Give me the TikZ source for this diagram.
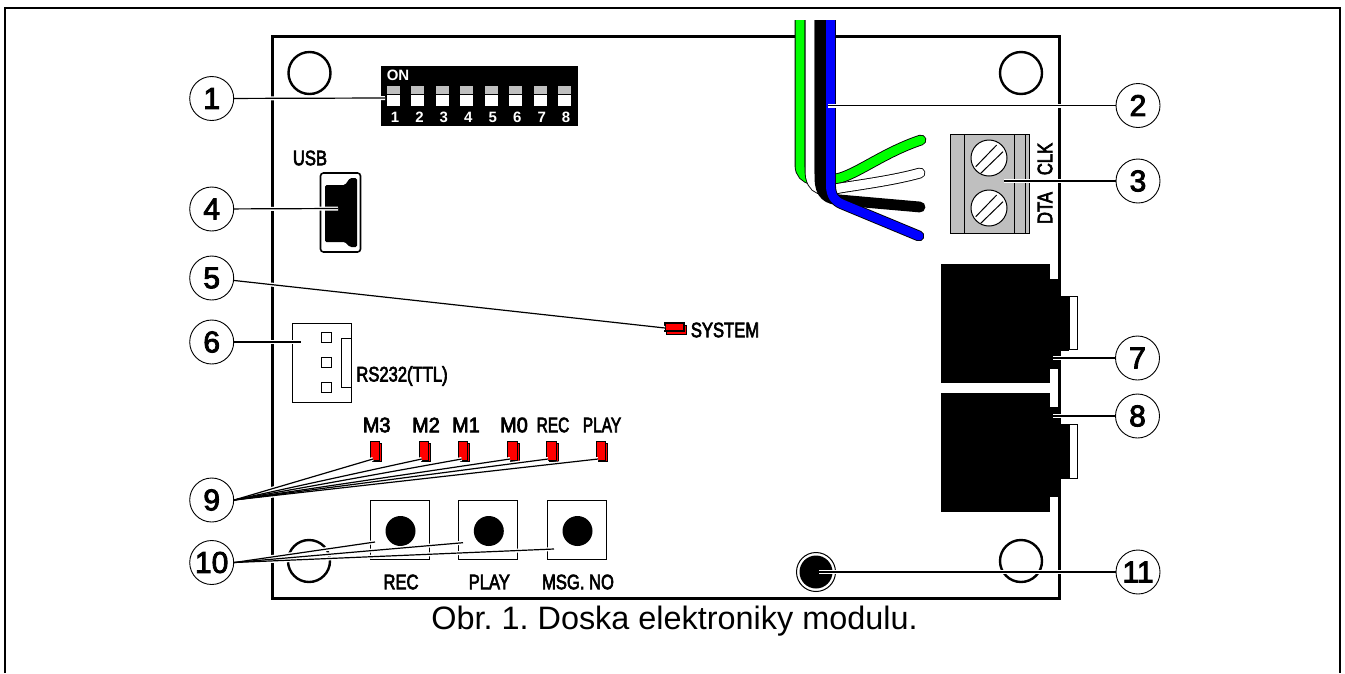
\documentclass[tikz,border=0pt]{standalone}
\usepackage{fontspec}
\setmainfont{Liberation Sans}
\newfontfamily\pcbfont[FakeStretch=.79,FakeBold=3]{Liberation Sans}
\newfontfamily\digitfont[FakeBold=3]{Liberation Sans}

\begin{document}
\begin{tikzpicture}[x=1pt,y=-1pt,
        callout/.style={circle,draw,fill=white,line width=.9,minimum size=44,inner sep=0,
            font=\digitfont\fontsize{30}{30}\selectfont},
        pcblabel/.style={inner sep=0,font=\pcbfont\fontsize{21}{21}\selectfont},
        casing/.style={draw=white,line width=4,shorten <=1.5},
        leader/.style={draw=black,line width=1.2},
        hole/.style={draw=black,line width=2.4,fill=white},
        wire/.style={draw=black,double=#1,line width=.9,double distance=9,line cap=round},
        dipnum/.style={text=white,inner sep=0,font=\bfseries\fontsize{15}{15}\selectfont}]
        \useasboundingbox (0,0) rectangle (1345,673);
        \draw[line width=1.6] (5,673) -- (5,8) -- (1340,8) -- (1340,673);
        \draw[line width=3] (272,36) rectangle (1059,598);
        \foreach \hx/\hy in {309.5/73,1021/73,309/561,1021/561}
            \draw[hole] (\hx,\hy) circle [radius=21];

        \fill (381,66) rectangle (578,126);
        \node[dipnum,font=\bfseries\fontsize{15}{15}\selectfont] at (398,75) {ON};
        \foreach \i in {1,...,8} {
            \fill[gray!50] ({387+(\i-1)*24.45},86) rectangle ({400+(\i-1)*24.45},94);
            \fill[white] ({387+(\i-1)*24.45},95) rectangle ({400+(\i-1)*24.45},106);
            \node[dipnum] at ({395+(\i-1)*24.45},117.5) {\i};
        }
        \coordinate (dip) at (385,98);

        \node[pcblabel] at (310,158) {USB};
        \draw[line width=1.6,rounded corners=3,fill=white] (320.5,173) rectangle (360.5,252);
        \fill[rounded corners=1.5] (325,185) -- (345,185) -- (350,178) -- (357,178) -- (357,247)
            -- (350,247) -- (345,242) -- (325,242) -- cycle;
        \coordinate (usb) at (338,208.5);

        \begin{scope}
            \clip (780,20) rectangle (940,260);
            \draw[wire=green] (800,0) -- (800,165) .. controls (800,182) and (820,183) .. (840,178)
                .. controls (860,172) and (885,152) .. (921,140);
            \draw[wire=white] (810,0) -- (810,170) .. controls (810,192) and (825,192) .. (840,188)
                .. controls (865,184) and (895,180) .. (920,173);
            \draw[wire=black] (820,0) -- (820,178) .. controls (820,195) and (828,199) .. (840,200) -- (920,207);
            \draw[wire=blue] (830.5,0) -- (830.5,185) .. controls (830.5,196) and (835,201) .. (842,204) -- (919,236);
        \end{scope}
        \coordinate (cable) at (828,105.5);

        \draw[line width=1,fill=gray!50] (950,134) rectangle (1029,233);
        \draw[line width=1] (964,134) -- (964,233) (1014,134) -- (1014,233) (1025,134) -- (1025,233);
        \foreach \sy in {158,208} {
            \draw[line width=1,fill=white] (989,\sy) circle [radius=18];
            \draw[line width=1] (975.7,\sy+8.7) -- (996.7,\sy-13) (980.7,\sy+15.3) -- (1003,\sy-6.3);
        }
        \node[pcblabel,rotate=90] at (1045,159) {CLK};
        \node[pcblabel,rotate=90] at (1045,208) {DTA};
        \coordinate (term) at (1004,181);

        \draw[line width=1,fill=red] (666,325) rectangle (686,334);
        \draw[line width=1.2,fill=red] (665,323) rectangle (684,331);
        \coordinate (ledsys) at (665,328);
        \node[pcblabel] at (725,330) {SYSTEM};

        \draw[line width=1] (292,323) rectangle (351,402);
        \foreach \py in {332,357,382}
            \draw[line width=1] (321,\py) rectangle (331,\py+10.5);
        \draw[line width=1] (341,338) rectangle (351,387);
        \node[pcblabel] at (402,376) {RS232(TTL)};
        \coordinate (rsconn) at (301,342);

        \foreach \jt/\jb/\ja/\jc/\ka/\kb in {264/383/279/369/296/351} {
            \fill (940.7,\jt) rectangle (1049.7,\jb);
            \fill (1049.7,\ja) rectangle (1059.5,\jc);
            \fill (1059,\ka) rectangle (1069,\kb);
            \draw[line width=1] (1069,\ka) rectangle (1077,\kb-1.5);
        }
        \foreach \jt/\jb/\ja/\jc/\ka/\kb in {392.7/511.7/407/497/424/479} {
            \fill (940.7,\jt) rectangle (1049.7,\jb);
            \fill (1049.7,\ja) rectangle (1059.5,\jc);
            \fill (1059,\ka) rectangle (1069,\kb);
            \draw[line width=1] (1069,\ka) rectangle (1077,\kb-1);
        }
        \coordinate (jackA) at (1053,358);
        \coordinate (jackB) at (1053,416);

        \foreach \lx/\txt/\nm/\tipx/\sx/\tx in {370/M3/ledm3/373/1.2/376.7,419/M2/ledm2/421.7/1.2/426,
                458/M1/ledm1/461.7/1.2/466,507.7/M0/ledm0/510/1.2/514,
                546.7/REC/ledrec/548/.93/553,596/PLAY/ledplay/598/.93/602} {
            \draw[line width=1,fill=red] (\lx+2.5,443) rectangle (\lx+11.7,461.5);
            \draw[line width=1,fill=red] (\lx,441) rectangle (\lx+9.5,460);
            \node[pcblabel,xscale=\sx] at (\tx,425) {\txt};
            \coordinate (\nm) at (\tipx,459);
        }

        \foreach \bx/\txt in {370/REC,458.3/PLAY,547/MSG. NO} {
            \draw[line width=1] (\bx,500) rectangle (\bx+59.5,559);
            \fill (\bx+30.5,531) circle [radius=15];
            \node[pcblabel] at (\bx+31,582) {\txt};
        }
        \coordinate (btnrec) at (375,542);
        \coordinate (btnplay) at (463,542.7);
        \coordinate (btnmsg) at (554,549);

        \draw[line width=1,fill=white] (816,572) circle [radius=19.5];
        \fill (816,572) circle [radius=16.5];
        \coordinate (tamper) at (819,572);

        \node[callout] (c1) at (211.7,98.5) {1};
        \node[callout] (c2) at (1138,105.5) {2};
        \node[callout] (c3) at (1138,181) {3};
        \node[callout] (c4) at (211.7,209) {4};
        \node[callout] (c5) at (211.7,278) {5};
        \node[callout] (c6) at (211.7,342) {6};
        \node[callout] (c7) at (1137.5,358) {7};
        \node[callout] (c8) at (1137.5,416) {8};
        \node[callout] (c9) at (211.7,500) {9};
        \node[callout] (c10) at (211.7,562.5) {10};
        \node[callout] (c11) at (1138,572) {11};

        \foreach \a/\b in {c1/dip,c2/cable,c3/term,c4/usb,c5/ledsys,c6/rsconn,c7/jackA,c8/jackB,c11/tamper,
                c9.east/ledm3,c9.east/ledm2,c9.east/ledm1,c9.east/ledm0,c9.east/ledrec,c9.east/ledplay,
                c10.east/btnrec,c10.east/btnplay,c10.east/btnmsg}
            \draw[casing] (\a) -- (\b);
        \foreach \a/\b in {c1/dip,c2/cable,c3/term,c4/usb,c5/ledsys,c6/rsconn,c7/jackA,c8/jackB,c11/tamper,
                c9.east/ledm3,c9.east/ledm2,c9.east/ledm1,c9.east/ledm0,c9.east/ledrec,c9.east/ledplay,
                c10.east/btnrec,c10.east/btnplay,c10.east/btnmsg}
            \draw[leader] (\a) -- (\b);

        \node[inner sep=0,font=\frenchspacing\fontsize{32.4}{33}\selectfont] (caption) at (674.5,621) {Obr. 1. Doska elektroniky modulu.};
    \end{tikzpicture}
\end{document}
